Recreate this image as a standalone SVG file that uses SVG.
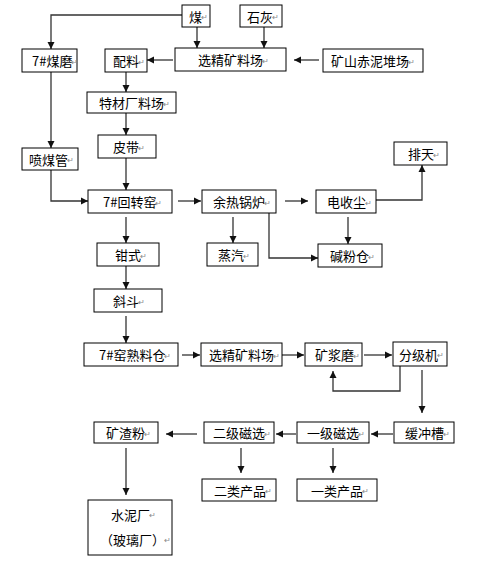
<svg xmlns="http://www.w3.org/2000/svg" width="490" height="574" viewBox="0 0 490 574">
<style>
.b{fill:#fff;stroke:#000;stroke-width:1}
.t{font-family:"Noto Sans CJK SC","Liberation Sans",sans-serif;font-size:13px;fill:#000;dominant-baseline:central}
.p{fill:#888;font-size:8px}
.c path{fill:none;stroke:#333;stroke-width:1.3;marker-end:url(#a)}
</style>
<defs>
<marker id="a" markerUnits="userSpaceOnUse" markerWidth="8" markerHeight="8" refX="7" refY="4" orient="auto">
<path d="M0,0.5 L7,4 L0,7.5 z" fill="#111"/>
</marker>
</defs>
<rect width="490" height="574" fill="#fff"/>
<g class="c" id="connectors">
<path d="M182,15 H51 V49"/>
<path d="M197,27 V48"/>
<path d="M264,27 V48"/>
<path d="M173,60 H147"/>
<path d="M319,60 H294"/>
<path d="M126,72 V92"/>
<path d="M126,113 V135"/>
<path d="M51,72 V148"/>
<path d="M126,158 V190"/>
<path d="M51,170 V201 H88"/>
<path d="M178,201 H201"/>
<path d="M126,217 V243"/>
<path d="M233,217 V243"/>
<path d="M285,201 H308"/>
<path d="M376,200 H422 V165"/>
<path d="M348,217 V244"/>
<path d="M269,213 V258 H318"/>
<path d="M126,266 V289"/>
<path d="M126,316 V343"/>
<path d="M182,355 H200"/>
<path d="M282,355 H304"/>
<path d="M364,355 H392"/>
<path d="M400,366 V391 H333 V371"/>
<path d="M422,370 V413"/>
<path d="M393,434 H371"/>
<path d="M296,434 H276"/>
<path d="M197,434 H166"/>
<path d="M241,448 V473"/>
<path d="M333,448 V473"/>
<path d="M126,448 V495"/>
</g>
<g id="mei"><rect class="b" x="182" y="5" width="28" height="22"/><text class="t" x="189" y="16">煤<tspan class="p" dx="-1">↵</tspan></text></g>
<g id="shihui"><rect class="b" x="240" y="5" width="42" height="22"/><text class="t" x="247" y="16">石灰<tspan class="p" dx="-1">↵</tspan></text></g>
<g id="meimo"><rect class="b" x="22" y="49" width="55" height="23"/><text class="t" x="32" y="60.5">7#煤磨<tspan class="p" dx="-1">↵</tspan></text></g>
<g id="peiliao"><rect class="b" x="105" y="49" width="42" height="23"/><text class="t" x="113" y="60.5">配料<tspan class="p" dx="-1">↵</tspan></text></g>
<g id="xuanjing1"><rect class="b" x="175" y="48" width="111" height="23"/><text class="t" x="198" y="59.5">选精矿料场<tspan class="p" dx="-1">↵</tspan></text></g>
<g id="chini"><rect class="b" x="323" y="49" width="100" height="23"/><text class="t" x="331" y="60.5">矿山赤泥堆场<tspan class="p" dx="-1">↵</tspan></text></g>
<g id="tecai"><rect class="b" x="87" y="92" width="89" height="21"/><text class="t" x="99" y="102.5">特材厂料场<tspan class="p" dx="-1">↵</tspan></text></g>
<g id="pidai"><rect class="b" x="98" y="135" width="58" height="23"/><text class="t" x="113" y="146.5">皮带<tspan class="p" dx="-1">↵</tspan></text></g>
<g id="penmei"><rect class="b" x="22" y="148" width="56" height="22"/><text class="t" x="29" y="159">喷煤管<tspan class="p" dx="-1">↵</tspan></text></g>
<g id="paitian"><rect class="b" x="394" y="142" width="53" height="23"/><text class="t" x="408" y="153.5">排天<tspan class="p" dx="-1">↵</tspan></text></g>
<g id="huizhuan"><rect class="b" x="88" y="190" width="84" height="23"/><text class="t" x="103" y="201.5">7#回转窑<tspan class="p" dx="-1">↵</tspan></text></g>
<g id="yure"><rect class="b" x="202" y="190" width="74" height="23"/><text class="t" x="213" y="201.5">余热锅炉<tspan class="p" dx="-1">↵</tspan></text></g>
<g id="dianshou"><rect class="b" x="316" y="190" width="60" height="23"/><text class="t" x="327" y="201.5">电收尘<tspan class="p" dx="-1">↵</tspan></text></g>
<g id="qianshi"><rect class="b" x="97" y="243" width="62" height="23"/><text class="t" x="115" y="254.5">钳式<tspan class="p" dx="-1">↵</tspan></text></g>
<g id="zhengqi"><rect class="b" x="207" y="243" width="51" height="23"/><text class="t" x="218" y="254.5">蒸汽<tspan class="p" dx="-1">↵</tspan></text></g>
<g id="jianfen"><rect class="b" x="318" y="244" width="64" height="23"/><text class="t" x="330" y="255.5">碱粉仓<tspan class="p" dx="-1">↵</tspan></text></g>
<g id="xiedou"><rect class="b" x="94" y="289" width="68" height="23"/><text class="t" x="113" y="300.5">斜斗<tspan class="p" dx="-1">↵</tspan></text></g>
<g id="shuliao"><rect class="b" x="84" y="343" width="94" height="23"/><text class="t" x="99" y="354.5">7#窑熟料仓<tspan class="p" dx="-1">↵</tspan></text></g>
<g id="xuanjing2"><rect class="b" x="201" y="343" width="81" height="23"/><text class="t" x="209" y="354.5">选精矿料场<tspan class="p" dx="-1">↵</tspan></text></g>
<g id="kuangjiang"><rect class="b" x="305" y="343" width="57" height="23"/><text class="t" x="315" y="354.5">矿浆磨<tspan class="p" dx="-1">↵</tspan></text></g>
<g id="fenji"><rect class="b" x="393" y="342" width="54" height="24"/><text class="t" x="399" y="354">分级机<tspan class="p" dx="-1">↵</tspan></text></g>
<g id="kuangzha"><rect class="b" x="94" y="422" width="64" height="21"/><text class="t" x="106" y="432.5">矿渣粉<tspan class="p" dx="-1">↵</tspan></text></g>
<g id="erji"><rect class="b" x="204" y="422" width="70" height="21"/><text class="t" x="213" y="432.5">二级磁选<tspan class="p" dx="-1">↵</tspan></text></g>
<g id="yiji"><rect class="b" x="297" y="422" width="72" height="21"/><text class="t" x="307" y="432.5">一级磁选<tspan class="p" dx="-1">↵</tspan></text></g>
<g id="huanchong"><rect class="b" x="394" y="422" width="60" height="21"/><text class="t" x="405" y="432.5">缓冲槽<tspan class="p" dx="-1">↵</tspan></text></g>
<g id="erlei"><rect class="b" x="202" y="479" width="74" height="22"/><text class="t" x="214" y="490">二类产品<tspan class="p" dx="-1">↵</tspan></text></g>
<g id="yilei"><rect class="b" x="297" y="479" width="80" height="22"/><text class="t" x="311" y="490">一类产品<tspan class="p" dx="-1">↵</tspan></text></g>
<g id="shuini"><rect class="b" x="88" y="500" width="84" height="55"/><text class="t" x="111" y="514">水泥厂<tspan class="p" dx="-1">↵</tspan></text><text class="t" x="100" y="539">（玻璃厂）<tspan class="p" dx="-1">↵</tspan></text></g>
</svg>
